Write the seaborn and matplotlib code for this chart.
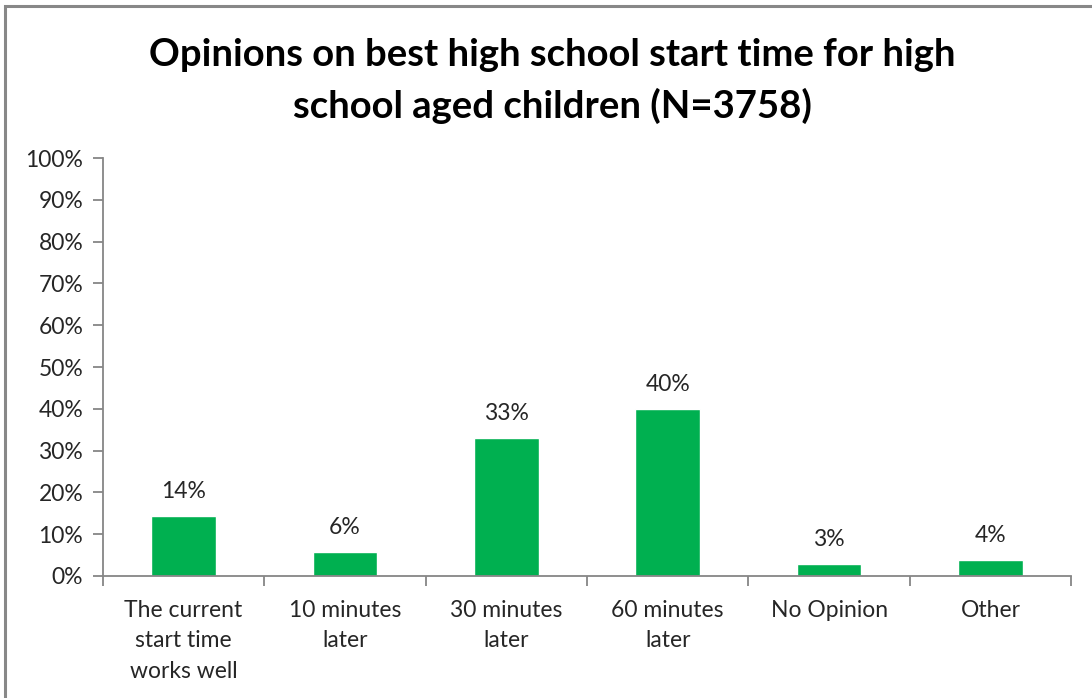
import matplotlib
matplotlib.use("Agg")
import matplotlib.pyplot as plt
from matplotlib.patches import Rectangle
from matplotlib.ticker import PercentFormatter, MultipleLocator, FixedLocator
import seaborn as sns
import pandas as pd

categories = [
    "The current\nstart time\nworks well",
    "10 minutes\nlater",
    "30 minutes\nlater",
    "60 minutes\nlater",
    "No Opinion",
    "Other",
]
shares = [14.4, 5.7, 33.0, 40.0, 2.9, 3.8]
title = "Opinions on best high school start time for high\nschool aged children (N=3758)"

sns.set_theme(style="white")
plt.rcParams["font.family"] = ["Lato", "DejaVu Sans"]

df = pd.DataFrame({"category": categories, "share": shares})

fig = plt.figure(figsize=(10.92, 6.98), dpi=100)
ax = fig.add_axes([0.094, 0.1748, 0.887, 0.5988])

sns.barplot(data=df, x="category", y="share", color="#00B050",
            saturation=1, width=0.4, ax=ax)

ax.set_ylim(0, 100)
ax.set_xlim(-0.5, len(categories) - 0.5)
ax.yaxis.set_major_locator(MultipleLocator(10))
ax.yaxis.set_major_formatter(PercentFormatter(decimals=0))
ax.set_xlabel("")
ax.set_ylabel("")

axis_color = "#868686"
text_color = "#262626"
for side in ["top", "right"]:
    ax.spines[side].set_visible(False)
for side in ["left", "bottom"]:
    ax.spines[side].set_color(axis_color)
    ax.spines[side].set_linewidth(1.3)

# category boundary ticks on the x axis
ax.xaxis.set_minor_locator(FixedLocator([i - 0.5 for i in range(len(categories) + 1)]))
ax.tick_params(axis="x", which="major", length=0, pad=17, labelsize=16.5, colors=text_color)
ax.tick_params(axis="x", which="minor", length=7, width=1.3, color=axis_color, direction="out", bottom=True)
ax.tick_params(axis="y", which="major", length=7, width=1.3, color=axis_color, direction="out",
               left=True, labelsize=16.5, labelcolor=text_color, pad=7)
for lbl in ax.get_xticklabels():
    lbl.set_linespacing(1.56)
    lbl.set_verticalalignment("top")

for bar, v in zip(ax.patches, shares):
    ax.annotate(f"{v:.0f}%", (bar.get_x() + bar.get_width() / 2, bar.get_height()),
                xytext=(0, 10), textcoords="offset points", ha="center", va="bottom",
                fontsize=16.5, color=text_color)

fig.text(0.506, 0.884, title, ha="center", va="center", fontsize=27.5,
         fontweight="bold", linespacing=1.5, color="black")

# outer chart frame
fig.patches.append(Rectangle((5 / 1092, -0.05), 1.2, 1 - 6 / 698 + 0.05,
                             transform=fig.transFigure, fill=False,
                             edgecolor="#888888", linewidth=2.2))

fig.savefig("out.png", dpi=100, facecolor="white")
